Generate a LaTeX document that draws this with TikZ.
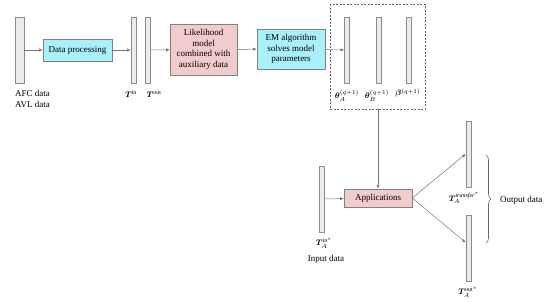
\documentclass[tikz,border=0pt]{standalone}
\usepackage{fontspec}
\setmainfont{Liberation Serif}
\usepackage{amsmath,bm}
\usetikzlibrary{arrows.meta,decorations.pathreplacing}

\begin{document}
\begin{tikzpicture}[x=1pt, y=-1pt,
  databar/.style={draw=black!45, fill=black!8, line width=0.6pt, inner sep=0pt, minimum height=66pt},
  widebar/.style={databar, minimum width=9pt},
  thinbar/.style={databar, minimum width=5pt},
  procbox/.style={draw=black!50, fill={rgb,255:red,170;green,240;blue,250}, line width=0.6pt, align=center, inner sep=1pt, font=\fontsize{9}{10.5}\selectfont},
  modelbox/.style={procbox, fill={rgb,255:red,242;green,204;blue,204}},
  flow/.style={draw=black!55, line width=0.5pt, -{Latex[length=3.5pt,width=3pt]}},
  lbl/.style={font=\fontsize{9}{11}\selectfont, inner sep=0pt},
  mlbl/.style={font=\fontsize{8}{10}\selectfont, inner sep=0pt}]
% Frame of the picture (reference size in px)
\useasboundingbox (0,0) rectangle (550,301);
% Input data bars
\node[widebar] (afc) at (19.5,50) {};
\node[thinbar] (tin) at (133.5,50) {};
\node[thinbar] (tout) at (147.5,50) {};
% Processing and model boxes
\node[procbox, minimum width=69pt, minimum height=22pt] (dproc) at (77.5,50) {Data processing};
\node[modelbox, minimum width=67pt, minimum height=51pt] (likel) at (203.5,49.5) {Likelihood\\model\\combined with\\auxiliary data};
\node[procbox, minimum width=68pt, minimum height=40pt] (emalg) at (291,49) {EM algorithm\\solves model\\parameters};
% Estimated parameters inside the dashed frame
\node[thinbar] (thetaa) at (347,50) {};
\node[thinbar] (thetab) at (378.5,50) {};
\node[thinbar] (beta) at (408.5,50) {};
\draw[black!60, dash pattern=on 2pt off 1.5pt, line width=0.6pt] (330,4) rectangle (425,109);
\coordinate (frameout) at (378,109);
% Application part
\node[thinbar] (tainp) at (321.5,199) {};
\node[modelbox, minimum width=68pt, minimum height=18pt] (apps) at (378,198) {Applications};
\node[thinbar] (tatrans) at (468.5,154) {};
\node[thinbar] (taout) at (468.5,248.5) {};
% Labels
\node[lbl, align=left, anchor=north west] (afclbl) at (15,90) {AFC data\\AVL data};
\node[mlbl] (tinlbl) at (131,94) {$\bm{T}^{\mathrm{in}}$};
\node[mlbl] (toutlbl) at (154,94) {$\bm{T}^{\mathrm{out}}$};
\node[mlbl] (thetaalbl) at (347,96) {$\bm{\theta}_{A}^{(q+1)}$};
\node[mlbl] (thetablbl) at (377,96) {$\bm{\theta}_{B}^{(q+1)}$};
\node[mlbl] (betalbl) at (408,93) {$\bm{\beta}^{(q+1)}$};
\node[mlbl] (tainplbl) at (324,243) {$\bm{T}_{A}^{\mathrm{in}^{*}}$};
\node[lbl] (inplbl) at (326,259) {Input data};
\node[mlbl] (tatranslbl) at (464,198) {$\bm{T}_{A}^{\mathit{transfer}^{*}}$};
\node[mlbl] (taoutlbl) at (468,292) {$\bm{T}_{A}^{\mathrm{out}^{*}}$};
\node[lbl, anchor=west] (outlbl) at (500,200) {Output data};
% Connectors
\draw[flow] (afc) -- (dproc);
\draw[flow] (dproc) -- (tin);
\draw[flow] (tout) -- (likel);
\draw[flow] (likel) -- (emalg);
\draw[flow] (emalg) -- (thetaa);
\draw[flow] (frameout) -- (apps);
\draw[flow] (tainp) -- (apps);
\draw[flow] (apps.east) -- (tatrans.west);
\draw[flow] (apps.east) -- ([yshift=6pt]taout.west);
% Brace round the output data
\draw[black!60, line width=0.6pt, decorate, decoration={brace, amplitude=5pt}] (486,155) -- (486,243);
\end{tikzpicture}
\end{document}
